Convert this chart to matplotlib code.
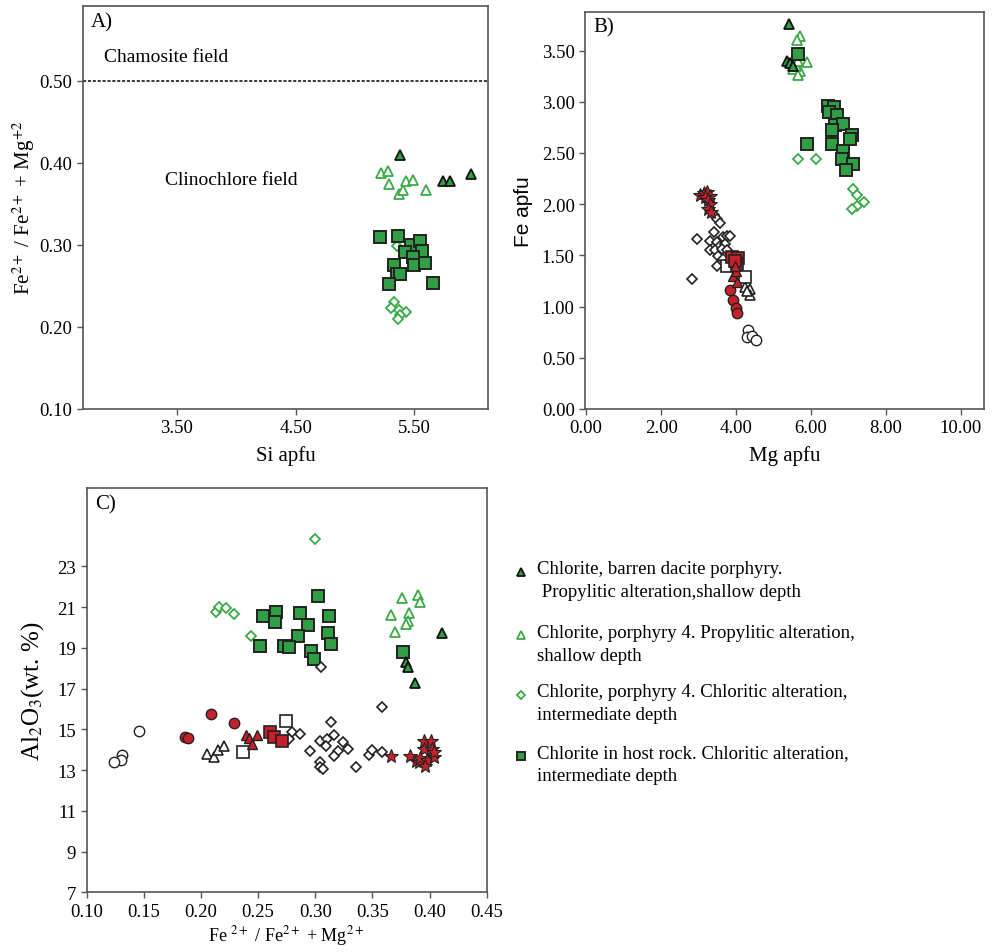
import matplotlib
matplotlib.use("Agg")
import matplotlib.pyplot as plt

plt.rcParams['font.family'] = ['Liberation Serif', 'DejaVu Serif']
plt.rcParams['mathtext.fontset'] = 'stix'

GREEN = '#2f9e44'
LGREEN = '#3aaa48'
RED = '#c8202a'
SPINE = '#555555'

# ---- panel A : Si apfu vs Fe/(Fe+Mg)
a_dgt_si = [5.38, 5.74, 5.80, 5.98]
a_dgt_r = [0.410, 0.378, 0.378, 0.386]
a_gt_si = [5.22, 5.28, 5.29, 5.37, 5.40, 5.43, 5.49, 5.60]
a_gt_r = [0.388, 0.390, 0.374, 0.362, 0.367, 0.378, 0.379, 0.367]
a_sq_si = [5.21, 5.36, 5.47, 5.55, 5.42, 5.56, 5.49, 5.50, 5.59, 5.33, 5.35, 5.38, 5.29, 5.66]
a_sq_r = [0.309, 0.311, 0.300, 0.305, 0.291, 0.292, 0.285, 0.275, 0.278, 0.276, 0.265, 0.265, 0.252, 0.253]
a_gd_si = [5.35, 5.33, 5.30, 5.37, 5.43, 5.38, 5.36]
a_gd_r = [0.299, 0.230, 0.223, 0.220, 0.218, 0.214, 0.210]
a_xticks = [3.5, 4.5, 5.5]
a_yticks = [0.1, 0.2, 0.3, 0.4, 0.5]
chamosite_limit = 0.50

# ---- panel B : Mg apfu vs Fe apfu
b_dgt_mg = [5.42, 5.35, 5.45, 5.53]
b_dgt_fe = [3.76, 3.40, 3.38, 3.35]
b_gt_mg = [5.71, 5.62, 5.88, 5.53, 5.71, 5.66, 5.60, 5.64]
b_gt_fe = [3.64, 3.60, 3.39, 3.32, 3.30, 3.26, 3.35, 3.40]
b_sq_mg = [5.66, 6.46, 6.60, 6.49, 6.68, 6.64, 6.86, 6.55, 7.08, 7.04, 5.90, 6.55, 6.84, 6.82, 7.13, 6.93]
b_sq_fe = [3.47, 2.96, 2.95, 2.90, 2.87, 2.77, 2.78, 2.72, 2.68, 2.64, 2.59, 2.59, 2.52, 2.44, 2.39, 2.33]
b_gd_mg = [5.66, 6.13, 7.13, 7.22, 7.40, 7.22, 7.08]
b_gd_fe = [2.44, 2.44, 2.15, 2.09, 2.02, 1.98, 1.95]
b_star_mg = [3.04, 3.15, 3.22, 3.29, 3.17, 3.26, 3.31, 3.26, 3.32]
b_star_fe = [2.09, 2.11, 2.12, 2.08, 2.07, 2.04, 2.00, 1.95, 1.92]
b_wd_mg = [3.40, 3.50, 3.57, 2.95, 3.40, 3.66, 3.75, 3.84, 3.31, 3.49, 3.57, 3.71, 3.31, 3.44, 3.62, 3.75, 3.53, 3.66, 3.48, 2.82]
b_wd_fe = [1.89, 1.86, 1.82, 1.66, 1.73, 1.68, 1.69, 1.69, 1.64, 1.63, 1.59, 1.61, 1.55, 1.55, 1.56, 1.55, 1.49, 1.46, 1.40, 1.27]
b_rsq_mg = [3.90, 4.05, 4.02, 3.97]
b_rsq_fe = [1.48, 1.47, 1.42, 1.45]
b_wsq_mg = [3.75, 4.24]
b_wsq_fe = [1.40, 1.29]
b_rtri_mg = [3.93, 4.02, 4.00, 3.98]
b_rtri_fe = [1.30, 1.24, 1.35, 1.40]
b_wtri_mg = [4.24, 4.36, 4.37, 4.30]
b_wtri_fe = [1.19, 1.17, 1.11, 1.15]
b_rc_mg = [3.84, 3.91, 4.00, 4.02]
b_rc_fe = [1.16, 1.06, 0.99, 0.94]
b_wc_mg = [4.33, 4.30, 4.42, 4.52]
b_wc_fe = [0.77, 0.70, 0.71, 0.67]
b_xticks = [0, 2, 4, 6, 8, 10]
b_yticks = [0, 0.5, 1.0, 1.5, 2.0, 2.5, 3.0, 3.5]

# ---- panel C : Fe/(Fe+Mg) vs Al2O3
c_gd_r = [0.300, 0.213, 0.216, 0.222, 0.229, 0.244]
c_gd_al = [24.33, 20.75, 21.03, 20.94, 20.65, 19.60]
c_sq_r = [0.254, 0.266, 0.265, 0.287, 0.302, 0.312, 0.294, 0.285, 0.311, 0.314, 0.252, 0.273, 0.277, 0.296, 0.299, 0.377]
c_sq_al = [20.55, 20.75, 20.26, 20.73, 21.53, 20.55, 20.14, 19.60, 19.72, 19.19, 19.11, 19.11, 19.03, 18.87, 18.46, 18.78]
c_gt_r = [0.376, 0.390, 0.392, 0.382, 0.381, 0.379, 0.366, 0.370]
c_gt_al = [21.45, 21.60, 21.24, 20.72, 20.34, 20.18, 20.62, 19.80]
c_dgt_r = [0.411, 0.379, 0.381, 0.387]
c_dgt_al = [19.72, 18.33, 18.05, 17.28]
c_rc_r = [0.209, 0.229, 0.186, 0.189]
c_rc_al = [15.74, 15.31, 14.64, 14.59]
c_wc_r = [0.146, 0.131, 0.130, 0.124]
c_wc_al = [14.90, 13.74, 13.50, 13.42]
c_wtri_r = [0.205, 0.211, 0.215, 0.220]
c_wtri_al = [13.79, 13.63, 14.00, 14.20]
c_wsq_r = [0.237, 0.274]
c_wsq_al = [13.87, 15.43]
c_rtri_r = [0.239, 0.242, 0.245, 0.249]
c_rtri_al = [14.72, 14.56, 14.28, 14.72]
c_rsq_r = [0.260, 0.264, 0.271]
c_rsq_al = [14.86, 14.61, 14.41]
c_wd_r = [0.305, 0.358, 0.314, 0.280, 0.287, 0.277, 0.304, 0.310, 0.316, 0.309, 0.324, 0.329, 0.320, 0.316,
          0.295, 0.304, 0.304, 0.307, 0.336, 0.347, 0.350, 0.358]
c_wd_al = [18.05, 16.08, 15.35, 14.86, 14.77, 14.53, 14.45, 14.53, 14.72, 14.20, 14.40, 14.04, 13.96, 13.71,
           13.96, 13.38, 13.14, 13.06, 13.14, 13.74, 14.00, 13.87]
c_star_r = [0.366, 0.383, 0.388, 0.391, 0.395, 0.401, 0.395, 0.402, 0.392, 0.398, 0.404, 0.396, 0.404]
c_star_al = [13.68, 13.71, 13.46, 13.38, 14.45, 14.45, 14.04, 14.04, 13.58, 13.51, 13.63, 13.22, 13.87]
c_xticks = [0.10, 0.15, 0.20, 0.25, 0.30, 0.35, 0.40, 0.45]
c_yticks = [7, 9, 11, 13, 15, 17, 19, 21, 23]

legend_labels = [
    "Chlorite, barren dacite porphyry.\n Propylitic alteration,shallow depth",
    "Chlorite, porphyry 4. Propylitic alteration,\nshallow depth",
    "Chlorite, porphyry 4. Chloritic alteration,\nintermediate depth",
    "Chlorite in host rock. Chloritic alteration,\nintermediate depth",
]

# marker styles
dgt = dict(marker='^', ms=7.5, mfc=GREEN, mec='#111111', mew=1.3, ls='none')
gt = dict(marker='^', ms=7.5, mfc='white', mec=LGREEN, mew=1.3, ls='none')
gd = dict(marker='D', ms=5.5, mfc='white', mec=LGREEN, mew=1.3, ls='none')
sq = dict(marker='s', ms=8, mfc=GREEN, mec='#222222', mew=1.4, ls='none')
rsq = dict(marker='s', ms=8, mfc=RED, mec='#222222', mew=1.2, ls='none')
wsq = dict(marker='s', ms=8, mfc='white', mec='#222222', mew=1.2, ls='none')
rtri = dict(marker='^', ms=7.5, mfc=RED, mec='#222222', mew=1.0, ls='none')
wtri = dict(marker='^', ms=7.5, mfc='white', mec='#222222', mew=1.2, ls='none')
rc = dict(marker='o', ms=7.5, mfc=RED, mec='#222222', mew=1.0, ls='none')
wc = dict(marker='o', ms=7.5, mfc='white', mec='#222222', mew=1.0, ls='none')
wd = dict(marker='D', ms=5.5, mfc='white', mec='#222222', mew=1.2, ls='none')
star = dict(marker='*', ms=10, mfc=RED, mec='#222222', mew=0.8, ls='none')

TICK_FS = 13.5


def style_axes(ax):
    for s in ax.spines.values():
        s.set_color(SPINE)
        s.set_linewidth(1.2)
    ax.tick_params(direction='out', length=4, width=1, color=SPINE, labelsize=TICK_FS, top=False, right=False)


fig = plt.figure(figsize=(9.95, 9.53), dpi=100)

# ---------------- A
axA = fig.add_axes([0.0834, 0.5698, 0.4071, 0.4229])
axA.axhline(chamosite_limit, color='black', ls=(0, (2, 1.2)), lw=1.1)
axA.plot(a_gd_si, a_gd_r, **gd)
axA.plot(a_gt_si, a_gt_r, **gt)
axA.plot(a_sq_si, a_sq_r, **sq)
axA.plot(a_dgt_si, a_dgt_r, **dgt)
axA.set_xlim(2.71, 6.12)
axA.set_ylim(0.10, 0.591)
axA.set_xticks(a_xticks)
axA.set_xticklabels([f"{v:.2f}" for v in a_xticks])
axA.set_yticks(a_yticks)
axA.set_yticklabels([f"{v:.2f}" for v in a_yticks])
axA.text(2.89, 0.53, "Chamosite field", fontsize=14, va='center')
axA.text(3.40, 0.38, "Clinochlore field", fontsize=14, va='center')
axA.text(0.02, 0.985, "A)", transform=axA.transAxes, fontsize=15, va='top')
axA.set_xlabel("Si apfu", fontsize=15, labelpad=6)
axA.set_ylabel(r"Fe$^{2+}$ / Fe$^{2+}$ + Mg$^{+2}$", fontsize=15, labelpad=2)
style_axes(axA)

# ---------------- B
axB = fig.add_axes([0.588, 0.5698, 0.4012, 0.4169])
axB.plot(b_gd_mg, b_gd_fe, **gd)
axB.plot(b_gt_mg, b_gt_fe, **gt)
axB.plot(b_sq_mg, b_sq_fe, **sq)
axB.plot(b_dgt_mg, b_dgt_fe, **dgt)
axB.plot(b_wd_mg, b_wd_fe, **wd)
axB.plot(b_wc_mg, b_wc_fe, **wc)
axB.plot(b_wtri_mg, b_wtri_fe, **wtri)
axB.plot(b_wsq_mg, b_wsq_fe, **wsq)
axB.plot(b_rc_mg, b_rc_fe, **rc)
axB.plot(b_rsq_mg, b_rsq_fe, **rsq)
axB.plot(b_rtri_mg, b_rtri_fe, **rtri)
axB.plot(b_star_mg, b_star_fe, **star)
axB.set_xlim(-0.03, 10.62)
axB.set_ylim(0, 3.88)
axB.set_xticks(b_xticks)
axB.set_xticklabels([f"{v:.2f}" for v in b_xticks])
axB.set_yticks(b_yticks)
axB.set_yticklabels([f"{v:.2f}" for v in b_yticks])
axB.text(0.02, 0.985, "B)", transform=axB.transAxes, fontsize=15, va='top')
axB.set_xlabel("Mg apfu", fontsize=15, labelpad=6)
axB.set_ylabel("Fe apfu", fontsize=15, family=['Liberation Sans', 'DejaVu Sans'], labelpad=6)
style_axes(axB)

# ---------------- C
axC = fig.add_axes([0.0871, 0.0626, 0.4020, 0.4243])
axC.plot(c_gd_r, c_gd_al, **gd)
axC.plot(c_gt_r, c_gt_al, **gt)
axC.plot(c_sq_r, c_sq_al, **sq)
axC.plot(c_dgt_r, c_dgt_al, **dgt)
axC.plot(c_wd_r, c_wd_al, **wd)
axC.plot(c_wc_r, c_wc_al, **wc)
axC.plot(c_wtri_r, c_wtri_al, **wtri)
axC.plot(c_wsq_r, c_wsq_al, **wsq)
axC.plot(c_rc_r, c_rc_al, **rc)
axC.plot(c_rsq_r, c_rsq_al, **rsq)
axC.plot(c_rtri_r, c_rtri_al, **rtri)
axC.plot(c_star_r, c_star_al, **star)
axC.set_xlim(0.10, 0.45)
axC.set_ylim(7, 26.85)
axC.set_xticks(c_xticks)
axC.set_xticklabels([f"{v:.2f}" for v in c_xticks])
axC.set_yticks(c_yticks)
axC.text(0.02, 0.985, "C)", transform=axC.transAxes, fontsize=15, va='top')
axC.set_xlabel(r"Fe $^{2+}$ / Fe$^{2+}$ + Mg$^{2+}$", fontsize=13, labelpad=2)
axC.set_ylabel(r"Al$_2$O$_3$(wt. %)", fontsize=18, labelpad=8)
style_axes(axC)

# ---------------- legend (markers aligned with the first text line)
lg = fig.add_axes([0.50, 0.15, 0.50, 0.28])
lg.set_xlim(0, 1)
lg.set_ylim(0, 1)
lg.axis('off')
legend_styles = [dgt, gt, gd, sq]
row_y = [0.890, 0.651, 0.429, 0.200]
for style, label, y in zip(legend_styles, legend_labels, row_y):
    small = dict(style)
    small['ms'] = style['ms'] * 0.8
    lg.plot([0.047], [y], **small)
    lg.text(0.079, y + 0.043, label, fontsize=13.5, va='top', linespacing=1.45)

plt.savefig("out.png", dpi=100)
